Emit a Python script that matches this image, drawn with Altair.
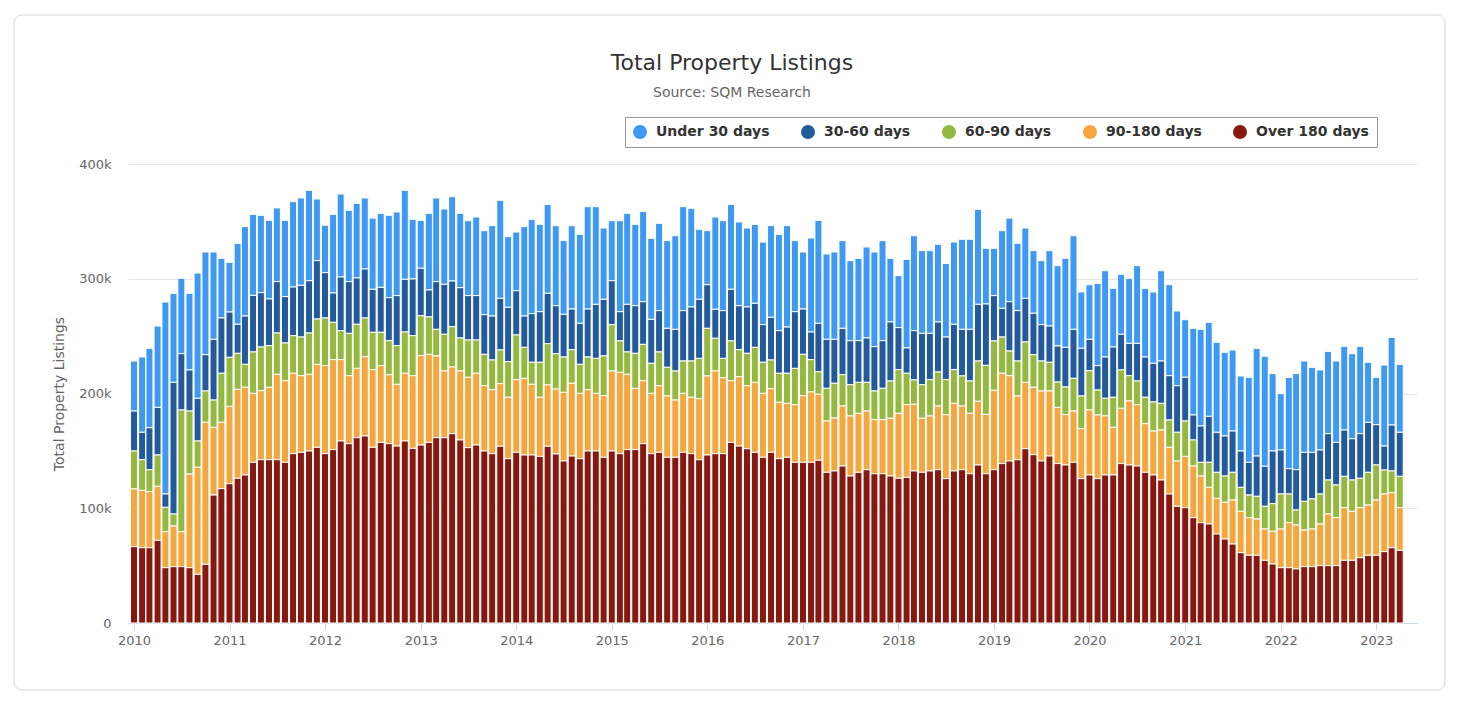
import altair as alt
import pandas as pd

FONT = "DejaVu Sans"

# Monthly listing counts in thousands, Jan 2010 .. Apr 2023 (one row of 12 per year)
over_180 = [
    66.5, 65.6, 65.6, 72.0, 48.2, 49.1, 49.1, 48.2, 42.4, 51.1, 111.5, 117.1,
    121.4, 126.1, 129.0, 140.0, 142.3, 142.3, 142.3, 140.0, 147.6, 148.7, 149.9, 153.1,
    147.6, 151.1, 158.6, 156.3, 161.5, 163.0, 153.1, 157.4, 156.3, 154.2, 158.6, 152.2,
    155.1, 157.4, 161.5, 161.5, 165.0, 159.5, 152.8, 155.1, 149.9, 147.6, 154.0, 143.2,
    148.7, 146.4, 146.4, 145.2, 154.0, 147.3, 141.2, 145.5, 143.2, 149.9, 149.9, 144.4,
    149.9, 147.6, 151.1, 151.1, 156.3, 147.6, 148.7, 144.4, 144.4, 148.7, 147.6, 142.3,
    146.4, 147.6, 147.6, 157.4, 154.2, 151.9, 148.7, 144.4, 148.7, 143.2, 144.4, 140.0,
    140.0, 140.0, 141.8, 131.3, 132.5, 136.8, 128.1, 131.3, 133.6, 130.1, 130.1, 128.1,
    126.1, 126.9, 132.5, 131.3, 132.5, 133.6, 125.8, 132.5, 133.6, 130.1, 137.7, 130.1,
    133.6, 138.9, 141.2, 142.3, 151.9, 146.7, 141.2, 145.5, 138.9, 137.7, 140.0, 125.8,
    129.0, 125.8, 129.0, 129.0, 138.9, 137.7, 136.8, 131.3, 129.0, 124.6, 112.4, 101.7,
    100.5, 91.8, 87.4, 86.3, 77.6, 73.2, 68.8, 61.3, 59.0, 59.0, 54.6, 51.4,
    48.2, 48.2, 47.1, 49.1, 49.1, 50.0, 50.0, 50.0, 54.6, 54.6, 56.9, 59.0,
    59.0, 62.2, 65.6, 63.3,
]
d90_180 = [
    50.3, 50.0, 48.9, 47.1, 31.4, 35.4, 30.5, 81.6, 93.3, 123.8, 59.0, 57.8,
    67.4, 77.5, 76.4, 60.1, 60.2, 63.1, 74.4, 71.2, 70.0, 66.8, 66.8, 72.3,
    76.7, 78.4, 70.9, 59.2, 60.4, 69.1, 67.7, 66.9, 60.1, 53.8, 59.0, 63.3,
    77.9, 76.7, 71.2, 58.1, 58.1, 60.1, 61.3, 62.5, 56.9, 55.7, 54.6, 53.5,
    63.4, 66.8, 61.6, 51.5, 53.4, 56.6, 59.8, 63.4, 56.9, 53.4, 50.2, 53.7,
    69.7, 70.8, 65.6, 53.4, 54.9, 52.5, 58.1, 53.4, 49.9, 51.4, 49.1, 53.2,
    68.9, 72.0, 66.2, 53.8, 60.5, 54.9, 61.0, 55.7, 55.5, 49.1, 47.0, 50.3,
    58.1, 61.3, 57.5, 44.7, 46.1, 52.3, 52.3, 51.4, 51.1, 47.1, 47.1, 50.3,
    56.6, 63.4, 58.1, 47.1, 47.9, 55.5, 55.8, 58.9, 55.5, 52.6, 55.5, 51.7,
    69.2, 78.7, 74.3, 55.5, 57.8, 58.7, 61.0, 56.7, 49.0, 43.9, 44.7, 43.6,
    56.6, 55.5, 51.4, 41.5, 48.2, 55.8, 53.5, 42.4, 38.3, 43.6, 40.7, 39.5,
    44.7, 45.0, 40.7, 31.9, 31.0, 32.0, 38.4, 36.0, 32.8, 31.6, 27.3, 28.5,
    33.7, 39.2, 38.3, 31.9, 32.8, 36.3, 45.0, 41.8, 45.9, 42.7, 43.6, 43.8,
    48.2, 50.2, 48.0, 37.2,
]
d60_90 = [
    33.1, 26.7, 19.1, 27.3, 21.2, 10.5, 106.0, 54.9, 22.9, 27.3, 23.8, 42.7,
    42.7, 31.4, 20.0, 36.1, 38.0, 36.3, 36.0, 32.8, 32.8, 33.7, 36.0, 39.5,
    41.5, 32.5, 25.3, 36.9, 38.4, 33.7, 32.5, 29.0, 29.6, 33.7, 36.0, 34.9,
    34.8, 32.6, 23.2, 32.0, 35.1, 28.8, 32.5, 29.0, 27.3, 25.9, 29.3, 31.1,
    38.9, 27.0, 19.2, 30.5, 36.0, 30.8, 30.8, 29.3, 25.3, 28.5, 30.5, 34.6,
    40.4, 27.4, 19.5, 30.5, 31.6, 26.2, 29.4, 25.0, 25.3, 28.2, 31.6, 35.1,
    41.5, 28.5, 16.8, 34.6, 23.5, 28.2, 30.5, 27.1, 25.0, 25.3, 26.2, 31.6,
    36.0, 28.2, 19.7, 28.5, 30.3, 27.3, 27.3, 27.0, 25.0, 25.0, 27.3, 32.5,
    38.1, 27.3, 21.2, 29.3, 31.7, 29.6, 30.5, 29.4, 26.2, 28.2, 35.1, 42.7,
    43.0, 31.6, 21.5, 30.5, 35.2, 28.4, 26.1, 25.0, 22.1, 24.1, 28.5, 28.4,
    34.3, 21.7, 15.4, 26.2, 33.4, 22.0, 20.6, 23.0, 25.3, 23.2, 23.8, 25.0,
    30.8, 22.7, 11.9, 21.8, 22.7, 22.9, 24.1, 20.9, 19.7, 19.8, 19.8, 24.1,
    30.5, 25.0, 13.1, 25.0, 26.2, 26.1, 29.6, 28.5, 27.3, 27.3, 25.6, 28.5,
    30.5, 20.9, 18.9, 27.3,
]
d30_60 = [
    34.8, 23.9, 36.6, 41.5, 11.6, 114.7, 49.1, 35.8, 37.2, 31.6, 52.9, 48.2,
    39.5, 25.3, 42.1, 49.3, 47.4, 40.7, 44.8, 40.4, 42.4, 45.1, 45.6, 50.9,
    39.5, 25.6, 46.7, 45.1, 40.4, 42.7, 37.5, 39.2, 37.5, 43.6, 45.9, 49.4,
    41.3, 23.5, 41.6, 43.5, 39.8, 43.8, 38.7, 38.7, 34.6, 38.3, 45.0, 47.3,
    38.6, 27.3, 42.4, 44.1, 43.9, 41.8, 37.2, 35.4, 35.7, 41.8, 47.1, 49.4,
    38.3, 25.5, 41.5, 41.5, 37.2, 38.3, 36.0, 34.0, 36.3, 43.9, 47.1, 51.5,
    38.0, 25.3, 41.6, 45.0, 38.3, 40.4, 38.4, 32.8, 37.2, 37.2, 40.3, 49.4,
    39.5, 24.1, 42.1, 42.7, 38.3, 40.4, 38.3, 36.3, 38.7, 38.6, 41.5, 51.4,
    36.6, 22.1, 43.0, 44.7, 40.3, 43.6, 37.1, 39.5, 40.6, 45.0, 49.4, 53.5,
    39.5, 25.0, 43.0, 43.9, 38.0, 36.1, 31.7, 31.6, 31.4, 34.5, 42.7, 41.6,
    27.3, 21.3, 36.0, 43.8, 31.1, 28.2, 32.8, 35.1, 33.7, 36.9, 38.6, 40.6,
    38.1, 21.8, 31.7, 40.1, 34.9, 34.9, 36.0, 31.7, 28.5, 35.1, 34.9, 45.9,
    38.4, 22.1, 35.1, 42.7, 40.6, 38.4, 40.4, 37.1, 40.4, 36.0, 38.9, 43.6,
    35.1, 20.9, 40.0, 38.4,
]
under_30 = [
    43.6, 65.6, 69.2, 70.9, 167.3, 77.6, 65.7, 66.8, 109.2, 89.5, 76.1, 52.0,
    43.3, 70.5, 77.9, 70.6, 67.4, 68.5, 64.2, 66.5, 74.4, 76.1, 78.8, 53.7,
    41.3, 68.5, 72.4, 62.1, 65.0, 61.9, 62.1, 64.5, 71.8, 72.9, 77.6, 52.0,
    41.8, 66.8, 72.9, 65.7, 73.5, 64.8, 65.3, 68.5, 73.2, 78.8, 85.4, 61.6,
    51.1, 77.9, 82.2, 76.1, 77.5, 69.8, 64.2, 72.7, 77.6, 89.2, 85.1, 62.1,
    52.3, 79.3, 79.3, 70.9, 78.5, 70.6, 76.1, 76.4, 81.6, 90.6, 86.0, 61.0,
    47.1, 80.4, 78.4, 74.0, 73.0, 68.8, 68.8, 72.0, 79.9, 83.9, 88.4, 61.9,
    49.7, 81.9, 89.8, 74.4, 76.1, 76.4, 69.8, 71.8, 79.3, 82.5, 87.2, 55.5,
    45.3, 77.2, 82.7, 72.1, 72.1, 67.7, 64.2, 71.7, 78.5, 78.5, 82.8, 48.5,
    41.2, 67.7, 72.9, 58.7, 61.3, 54.6, 55.8, 65.7, 70.0, 77.6, 81.6, 49.1,
    47.6, 71.7, 75.2, 51.1, 52.3, 56.7, 67.7, 59.8, 62.2, 78.7, 79.3, 65.1,
    50.2, 75.5, 84.2, 81.9, 78.4, 72.9, 70.6, 65.4, 74.1, 93.9, 95.9, 67.4,
    49.1, 79.6, 83.7, 79.6, 74.1, 69.7, 71.7, 70.9, 72.9, 74.1, 76.1, 52.3,
    41.3, 70.6, 76.4, 59.2,
]

months = pd.date_range("2010-01-01", "2023-04-01", freq="MS").strftime("%Y-%m-%d").tolist()
for arr in (over_180, d90_180, d60_90, d30_60, under_30):
    assert len(arr) == len(months), len(arr)

series = ["Under 30 days", "30-60 days", "60-90 days", "90-180 days", "Over 180 days"]
colors = ["#3f98f1", "#235a9c", "#94b840", "#f3a73e", "#86180f"]
values_by_series = [under_30, d30_60, d60_90, d90_180, over_180]
stack_rank = {"Over 180 days": 0, "90-180 days": 1, "60-90 days": 2, "30-60 days": 3, "Under 30 days": 4}

rows = []
for name, vals in zip(series, values_by_series):
    for m, v in zip(months, vals):
        rows.append({"month": m, "series": name, "listings": v * 1000, "rank": stack_rank[name]})
df = pd.DataFrame(rows)

year_ticks = [alt.DateTime(year=y, month=1, date=1, utc=True) for y in range(2010, 2024)]

bars = alt.Chart(df).mark_bar(width=7, stroke="white", strokeWidth=1).encode(
    x=alt.X(
        "month:T",
        title=None,
        scale=alt.Scale(
            type="utc",
            padding=0,
            domain=[alt.DateTime(year=2009, month=12, date=9, utc=True),
                    alt.DateTime(year=2023, month=6, date=6, utc=True)],
        ),
        axis=alt.Axis(
            values=year_ticks, format="%Y", grid=False, domainColor="#ccd6eb",
            tickColor="#ccd6eb", tickSize=7, labelPadding=4, labelColor="#666666",
            labelFontSize=13, labelFont=FONT, labelOverlap=False, labelFlush=False,
        ),
    ),
    y=alt.Y(
        "listings:Q",
        stack="zero",
        title="Total Property Listings",
        scale=alt.Scale(domain=[0, 400000], nice=False, padding=0),
        axis=alt.Axis(
            values=[0, 100000, 200000, 300000, 400000],
            labelExpr="datum.value == 0 ? '0' : format(datum.value / 1000, 'd') + 'k'",
            grid=True, gridColor="#e6e6e6", domain=False, ticks=False, labelColor="#666666",
            labelFontSize=13, labelFont=FONT, labelPadding=17, titleColor="#666666",
            titleFontSize=14, titleFont=FONT, titleFontWeight="normal", titlePadding=12,
        ),
    ),
    color=alt.Color(
        "series:N",
        scale=alt.Scale(domain=series, range=colors),
        legend=alt.Legend(
            title=None, orient="none", legendX=497, legendY=-47, direction="horizontal",
            strokeColor="#999999", padding=8, symbolType="circle", symbolSize=196,
            symbolStrokeWidth=0, labelFontSize=14, labelFontWeight="bold",
            labelColor="#333333", labelFont=FONT, columnPadding=31, labelOffset=9,
        ),
    ),
    order=alt.Order("rank:Q", sort="ascending"),
)

card = alt.Chart(pd.DataFrame({"k": [0]})).mark_rect(
    fillOpacity=0, stroke="#d6d6d6", strokeWidth=1, cornerRadius=8
).encode(x=alt.value(-114), x2=alt.value(1317), y=alt.value(-149), y2=alt.value(526))

title = alt.Chart(pd.DataFrame({"t": ["Total Property Listings"]})).mark_text(
    font=FONT, fontSize=22, color="#333333", align="center", baseline="middle"
).encode(text="t:N", x=alt.value(604), y=alt.value(-101))

subtitle = alt.Chart(pd.DataFrame({"t": ["Source: SQM Research"]})).mark_text(
    font=FONT, fontSize=14, color="#666666", align="center", baseline="middle"
).encode(text="t:N", x=alt.value(604), y=alt.value(-71))

chart = alt.layer(card, bars, title, subtitle).properties(
    width=1289,
    height=459,
    autosize=alt.AutoSizeParams(type="none"),
    padding={"left": 120, "top": 156, "right": 35, "bottom": 70},
    background="white",
).configure_view(stroke=None)

chart.save("out.html", embed_options={"renderer": "svg", "actions": False})
